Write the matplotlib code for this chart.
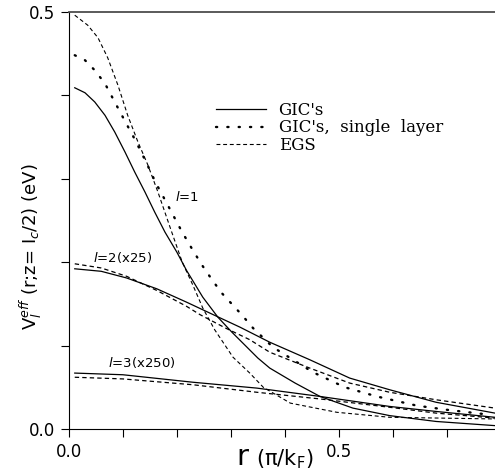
import numpy as np
import matplotlib
matplotlib.use("Agg")
import matplotlib.pyplot as plt

# r in units of pi/kF, V in eV
# l = 1
x1_gic = [0.011, 0.03, 0.048, 0.067, 0.085, 0.104, 0.122, 0.141, 0.159, 0.178, 0.2, 0.218, 0.248, 0.276, 0.302, 0.35, 0.372, 0.419, 0.465, 0.526, 0.594, 0.68, 0.789]
y1_gic = [0.409, 0.403, 0.392, 0.376, 0.356, 0.332, 0.308, 0.284, 0.26, 0.236, 0.212, 0.19, 0.158, 0.134, 0.116, 0.085, 0.073, 0.055, 0.039, 0.025, 0.016, 0.009, 0.004]
x1_sl = [0.011, 0.03, 0.048, 0.067, 0.085, 0.104, 0.124, 0.143, 0.161, 0.181, 0.209, 0.228, 0.246, 0.265, 0.283, 0.32, 0.341, 0.378, 0.452, 0.511, 0.57, 0.644, 0.7, 0.78]
y1_sl = [0.448, 0.442, 0.43, 0.414, 0.392, 0.369, 0.345, 0.32, 0.295, 0.271, 0.237, 0.216, 0.197, 0.179, 0.163, 0.137, 0.121, 0.098, 0.068, 0.05, 0.039, 0.028, 0.023, 0.017]
x1_egs = [0.011, 0.035, 0.054, 0.072, 0.091, 0.109, 0.128, 0.146, 0.165, 0.19, 0.21, 0.23, 0.248, 0.27, 0.304, 0.335, 0.36, 0.41, 0.496, 0.594, 0.789]
y1_egs = [0.496, 0.484, 0.469, 0.445, 0.412, 0.376, 0.344, 0.317, 0.284, 0.237, 0.2, 0.172, 0.145, 0.119, 0.086, 0.067, 0.05, 0.031, 0.02, 0.014, 0.012]
# l = 2 (x25)
x2_gic = [0.011, 0.06, 0.107, 0.163, 0.218, 0.274, 0.317, 0.372, 0.446, 0.52, 0.594, 0.68, 0.789]
y2_gic = [0.192, 0.189, 0.181, 0.168, 0.152, 0.135, 0.122, 0.104, 0.083, 0.061, 0.047, 0.032, 0.019]
x2_egs = [0.011, 0.06, 0.107, 0.163, 0.218, 0.243, 0.29, 0.335, 0.372, 0.446, 0.52, 0.594, 0.68, 0.789]
y2_egs = [0.198, 0.193, 0.183, 0.166, 0.147, 0.137, 0.121, 0.107, 0.092, 0.073, 0.055, 0.044, 0.035, 0.025]
# l = 3 (x250)
x3_gic = [0.011, 0.1, 0.23, 0.348, 0.465, 0.594, 0.68, 0.789]
y3_gic = [0.067, 0.065, 0.056, 0.049, 0.039, 0.027, 0.021, 0.014]
x3_egs = [0.011, 0.1, 0.23, 0.348, 0.465, 0.594, 0.68, 0.789]
y3_egs = [0.062, 0.060, 0.053, 0.044, 0.036, 0.026, 0.019, 0.013]

legend_labels = ["GIC's", "GIC's,  single  layer", "EGS"]

fig = plt.figure(figsize=(4.95, 4.74), dpi=100)
ax = fig.add_axes([0.139, 0.095, 0.861, 0.88])

dash = (0, (3.5, 2.5))
l1, = ax.plot(x1_gic, y1_gic, color='k', lw=0.9, label=legend_labels[0])
l2, = ax.plot(x1_sl, y1_sl, color='k', lw=1.7, linestyle=(0, (0.5, 4.3)),
              dash_capstyle='round', label=legend_labels[1])
l3, = ax.plot(x1_egs, y1_egs, color='k', lw=0.8, linestyle=dash, label=legend_labels[2])
ax.plot(x2_gic, y2_gic, color='k', lw=0.9)
ax.plot(x2_egs, y2_egs, color='k', lw=0.9, linestyle=dash)
ax.plot(x3_gic, y3_gic, color='k', lw=0.9)
ax.plot(x3_egs, y3_egs, color='k', lw=0.9, linestyle=dash)

ax.text(0.196, 0.278, "$l$=1", fontsize=9.5, va='center')
ax.text(0.044, 0.206, "$l$=2(x25)", fontsize=9.5, va='center')
ax.text(0.072, 0.080, "$l$=3(x250)", fontsize=9.5, va='center')

ax.set_xlim(0, 0.789)
ax.set_ylim(0, 0.5)
ax.set_xticks([0.0, 0.5])
ax.set_xticklabels(["0.0", "0.5"])
ax.set_yticks([0.0, 0.5])
ax.set_yticklabels(["0.0", "0.5"])
ax.set_xticks(np.arange(0.1, 0.8, 0.1), minor=True)
ax.set_yticks(np.arange(0.1, 0.5, 0.1), minor=True)
ax.tick_params(which='both', direction='out', length=6, width=0.8, labelsize=12)
ax.tick_params(axis='x', pad=4)
ax.spines['right'].set_visible(False)
ax.spines['top'].set_linewidth(1.3)
ax.spines['top'].set_color('0.3')

leg = ax.legend(handles=[l1, l2, l3], loc='upper left', bbox_to_anchor=(0.326, 0.805),
                frameon=False, handlelength=3.0, handletextpad=0.75, labelspacing=0.05,
                borderpad=0, prop={'family': 'DejaVu Serif', 'size': 12})

fig.text(0.063, 0.48, r"V$_{l}^{eff}$ (r;z= I$_c$/2) (eV)", rotation=90,
         ha='center', va='center', fontsize=13)
fig.text(0.478, 0.035, "r", fontsize=21, ha='left', va='center')
fig.text(0.518, 0.032, "(\u03c0/k$_\\mathregular{F}$)", fontsize=15, ha='left', va='center')

fig.savefig("out.png", dpi=100)
